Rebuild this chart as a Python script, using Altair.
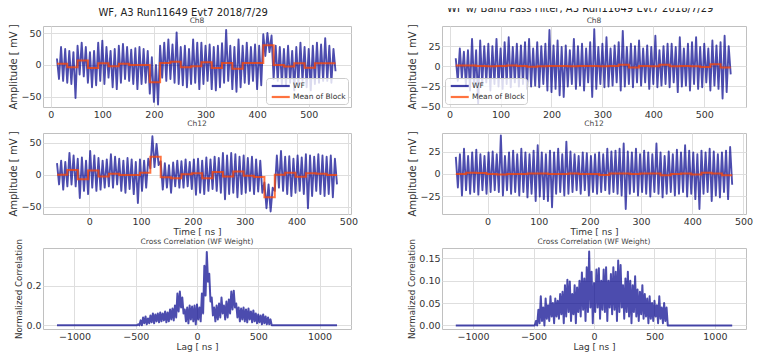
import altair as alt
import pandas as pd

# ---------------- data ----------------
STEP = 4          # ns between listed waveform samples
BLOCK = 20        # ns per block of the block mean
CH8_START = 12
CH12_START = -62

wf_left_ch8 = [
    10, -22, 28, -25, 25, -28, 22, -30, 20, -52,
    30, -15, 35, -18, 28, -28, 20, -35, 22, -32,
    35, -25, 38, -30, 28, -20, 22, -35, 25, -38,
    30, -28, 33, -22, 28, -25, 24, -30, 26, -38,
    28, -30, 25, -28, 22, -45, 12, -58, 0, -62,
    30, -20, 35, -25, 40, -22, 32, -28, 51, -30,
    28, -32, 30, -35, 25, -30, 40, -28, 35, -38,
    35, -30, 30, -25, 32, -38, 28, -40, 30, -35,
    34, -28, 55, -25, 30, -38, 28, -42, 40, -35,
    30, -28, 35, -30, 28, -25, 32, -38, 30, -32,
    48, 14, 50, 20, 46, -22, 30, -25, 28, -30,
    25, -32, 30, -28, 22, -40, 28, -30, 35, -25,
    28, -35, 25, -40, 30, -30, 35, -28, 32, -25,
    42, -25, 30, -28, 25, -10,
]
wf_left_ch12 = [
    18, -15, 22, -23, 20, -18, 34, -15, 30, -18,
    25, -36, 27, -25, 22, -30, 37, -20, 30, -25,
    26, -23, 22, -20, 24, -18, 32, -20, 28, -15,
    25, -25, 22, -28, 26, -22, 24, -30, 20, -44,
    24, -25, 22, -20, 25, 10, 60, 12, 48, 15,
    21, -23, 18, -20, 15, -28, 19, -18, 22, -20,
    21, -20, 24, -18, 20, -22, 24, -31, 25, -28,
    22, -30, 27, -25, 24, -22, 28, -25, 26, -28,
    34, -38, 30, -30, 34, -28, 32, -35, 28, -30,
    30, -28, 26, -25, 28, -30, 24, -26, 22, -28,
    -12, -52, -15, -57, -20, -25, 30, -20, 37, -25,
    28, -30, 29, -33, 25, -28, 30, -25, 27, -30,
    32, -52, 30, -33, 28, -25, 32, -30, 30, -33,
    28, -30, 30, -35, 25, -15,
]
wf_right_ch8 = [
    10, -18, 22, -15, 18, -24, 20, -30, 34, -25,
    20, -46, 32, -22, 25, -20, 28, -30, 25, -22,
    34, -25, 22, -28, 30, -22, 36, -26, 24, -20,
    28, -25, 26, -22, 30, -28, 34, -25, 22, -24,
    30, -26, 25, -22, 28, -30, 45, -32, 26, -28,
    32, -36, 24, -38, 26, -25, 20, -22, 34, -28,
    25, -24, 28, -30, 22, -20, 30, -38, 46, -28,
    24, -22, 28, -26, 36, -25, 22, -24, 26, -20,
    30, -30, 44, -25, 24, -22, 28, -26, 25, -20,
    32, -24, 22, -20, 26, -28, 24, -22, 38, -26,
    20, -24, 25, -22, 28, -26, 28, -20, 24, -32,
    36, -25, 22, -24, 28, -30, 30, -22, 36, -28,
    24, -26, 28, -20, 22, -30, 32, -24, 26, -28,
    30, -40, 38, -32, 25, -10,
]
wf_right_ch12 = [
    19, -15, 22, -24, 28, -18, 20, -22, 24, -20,
    27, -23, 22, -18, 20, -22, 24, -20, 25, -18,
    22, -20, 43, -24, 20, -18, 24, -22, 26, -20,
    22, -24, 28, -20, 24, -26, 22, -22, 26, -30,
    32, -25, 24, -28, 22, -30, 26, -37, 24, -22,
    28, -20, 22, -24, 36, -22, 25, -20, 22, -18,
    20, -22, 24, -18, 23, -24, 20, -20, 22, -22,
    24, -20, 22, -18, 28, -22, 25, -20, 26, -22,
    28, -24, 34, -39, 25, -22, 24, -20, 28, -24,
    22, -20, 26, -22, 24, -25, 22, -20, 34, -22,
    24, -26, 20, -22, 25, -20, 22, -24, 27, -22,
    24, -20, 32, -25, 26, -22, 24, -28, 22, -39,
    26, -22, 24, -20, 28, -30, 25, -24, 22, -26,
    24, -20, 26, -28, 30, -12,
]

mean_left_ch8 = [2, -3.5, 7, -5, 2.5, -2, 2, 0, 0, -27, 3, 5, -3.5, -2,
                 4, -5, 3, -6, 3, 3, 31, 0, -2.5, 2.5, -4.5, 2.5, 2.5]
mean_left_ch12 = [0, 7.5, -7, 6.5, -2.5, 1.5, -0.5, -0.5, 3, 28, -4, -5.5, 1, 2.5,
                  -5.5, 4.5, -2.5, 5, -1.5, -3.5, -35, 0, 3, -3, 2.5, 1.5, -0.5]
mean_right_ch8 = [1, 1, 0.5, 0, 0.5, 1, 0.5, -0.5, 0, 0.5, 0.5, 0, 0.5, 0.5,
                  0, 0.5, 2, -1.5, 0.5, 0, 2, 0, 0.5, 0, -1, 2.5, -1.5]
mean_right_ch12 = [0, 1.5, 1, 0, -0.5, 0, 0, 0.5, 0.5, 0, 0, 0.5, 0, 0,
                   -1, 0.5, 0.5, 0, 0.5, 0.5, -1.5, 0, 0.5, -0.5, 1.5, 0.5, -1.5]

CORR_T0 = -480    # first listed lag, 20 ns apart
CORR_EDGE = 1143  # lag range of the correlation
corr_left_hi = [0.005, 0.025, 0.04, 0.045, 0.035, 0.05, 0.06, 0.055, 0.06, 0.065,
                0.06, 0.07, 0.065, 0.08, 0.085, 0.1, 0.16, 0.17, 0.14, 0.08,
                0.09, 0.1, 0.095, 0.1, 0.105, 0.09, 0.16, 0.3, 0.37, 0.26,
                0.14, 0.09, 0.1, 0.11, 0.14, 0.1, 0.12, 0.13, 0.17, 0.175,
                0.11, 0.09, 0.085, 0.09, 0.08, 0.085, 0.07, 0.075, 0.06, 0.055,
                0.05, 0.055, 0.045, 0.04, 0.03]
corr_left_lo = [0, 0, 0.01, 0.005, 0.01, 0.015, 0.01, 0.02, 0.015, 0.02,
                0.025, 0.015, 0.02, 0.03, 0.025, 0.04, 0.07, 0.09, 0.06, 0.02,
                0.01, 0.03, 0.02, 0.005, 0.03, 0.02, 0.06, 0.15, 0.22, 0.12,
                0.05, 0.02, 0.03, 0.04, 0.06, 0.03, 0.04, 0.06, 0.08, 0.09,
                0.04, 0.02, 0.03, 0.02, 0.015, 0.03, 0.015, 0.02, 0.01, 0.015,
                0.005, 0.01, 0.005, 0.005, 0]
corr_right_hi = [0.01, 0.035, 0.065, 0.04, 0.06, 0.045, 0.065, 0.05, 0.06, 0.055,
                 0.07, 0.075, 0.09, 0.102, 0.098, 0.07, 0.09, 0.085, 0.1, 0.118,
                 0.105, 0.13, 0.165, 0.12, 0.095, 0.125, 0.128, 0.1, 0.125, 0.13,
                 0.1, 0.115, 0.13, 0.12, 0.145, 0.135, 0.09, 0.105, 0.12, 0.1,
                 0.09, 0.11, 0.08, 0.075, 0.09, 0.07, 0.06, 0.065, 0.05, 0.055,
                 0.045, 0.065, 0.04, 0.05, 0.04]
corr_right_lo = [0, 0.005, 0.01, 0, 0.015, 0.01, 0.02, 0.005, 0.02, 0.015,
                 0.025, 0.005, 0.02, 0.03, 0.01, 0.025, 0.005, 0.03, 0.02, 0.035,
                 0.01, 0.03, 0.04, 0.005, 0.03, 0.04, 0.015, 0.035, 0.03, 0.01,
                 0.04, 0.025, 0.035, 0.01, 0.03, 0.04, 0.015, 0.03, 0.02, 0.005,
                 0.03, 0.02, 0.01, 0.025, 0.015, 0.02, 0.005, 0.015, 0.01, 0.02,
                 0.005, 0.015, 0.005, 0.01, 0]

TITLE_LEFT = "WF, A3 Run11649 Evt7 2018/7/29"
TITLE_RIGHT = "WF w/ Band Pass Filter, A3 Run11649 Evt7 2018/7/29"
SERIES = ["WF", "Mean of Block"]
X_TICKS = [0, 100, 200, 300, 400, 500]
LAG_TICKS = [-1000, -500, 0, 500, 1000]

# ---------------- tables ----------------
def wf_frame(start, vals):
    return pd.DataFrame({"t": [start + STEP * i for i in range(len(vals))],
                         "v": vals, "s": SERIES[0]})

def mean_frame(start, means):
    ts = [start + BLOCK * k for k in range(len(means) + 1)]
    vs = list(means) + [means[-1]]
    return pd.DataFrame({"t": ts, "v": vs, "s": SERIES[1]})

def corr_frame(hi, lo, end):
    # each listed lag gives a peak value and, half a step later, a trough value
    ts, vs = [-CORR_EDGE, CORR_T0 - 10], [0.0, 0.0]
    for i, (h, l) in enumerate(zip(hi, lo)):
        t = CORR_T0 + 20 * i
        ts += [t, t + 10]
        vs += [h, l]
    ts += [end, CORR_EDGE]
    vs += [0.0, 0.0]
    return pd.DataFrame({"t": ts, "v": vs})

BLUE = "#00008b"
ORANGE = "#ff4500"
FONT = "DejaVu Sans"

def sub_title(text, offset):
    return alt.TitleParams(text, fontSize=7.5, offset=offset, frame="group")

def wf_panel(start, wf, means, sub, sub_offset, xdom, ydom, yticks, w, h,
             xtitle=None, legend_orient=None):
    if legend_orient:
        legend = alt.Legend(title=None, orient=legend_orient, offset=3,
                            fillColor="rgba(255,255,255,0.8)", strokeColor="#cccccc",
                            padding=2, cornerRadius=3, labelFontSize=7.5,
                            labelColor="#333333", labelFont=FONT,
                            symbolType="M-0.5,0H3.5", symbolSize=81,
                            symbolStrokeWidth=2.2, symbolOpacity=0.75,
                            rowPadding=0, labelOffset=13)
    else:
        legend = None
    color = alt.Color("s:N", scale=alt.Scale(domain=SERIES, range=[BLUE, ORANGE]),
                      legend=legend)
    x = alt.X("t:Q", scale=alt.Scale(domain=xdom, nice=False, zero=False),
              axis=alt.Axis(values=X_TICKS, title=xtitle))
    y = alt.Y("v:Q", scale=alt.Scale(domain=ydom, nice=False, zero=False),
              axis=alt.Axis(values=yticks, title="Amplitude [ mV ]", titleFontSize=10))
    line = alt.Chart(wf_frame(start, wf)).mark_line(
        strokeWidth=1.9, opacity=0.7, strokeJoin="round").encode(x=x, y=y, color=color)
    step = alt.Chart(mean_frame(start, means)).mark_line(
        strokeWidth=2, opacity=0.75, interpolate="step-after").encode(x=x, y=y, color=color)
    return alt.layer(line, step).properties(width=w, height=h,
                                            title=sub_title(sub, sub_offset))

def corr_panel(hi, lo, end, ydom, yticks, fmt, w, h, sub_offset):
    x = alt.X("t:Q", scale=alt.Scale(domain=[-1257, 1257], nice=False, zero=False),
              axis=alt.Axis(values=LAG_TICKS, format="d", title="Lag [ ns ]"))
    y = alt.Y("v:Q", scale=alt.Scale(domain=ydom, nice=False, zero=False),
              axis=alt.Axis(values=yticks, format=fmt, title="Normalized Correlation",
                            titleFontSize=8.7))
    return alt.Chart(corr_frame(hi, lo, end)).mark_line(
        color=BLUE, strokeWidth=2.0, opacity=0.7, strokeJoin="round").encode(
        x=x, y=y).properties(width=w, height=h,
                             title=sub_title("Cross Correlation (WF Weight)", sub_offset))

W_L, W_R, H = 308, 304, 81

left = alt.concat(
    wf_panel(CH8_START, wf_left_ch8, mean_left_ch8, "Ch8", -1, [-15, 582], [-66, 61],
             [-50, 0, 50], W_L, H, legend_orient="bottom-right"),
    wf_panel(CH12_START, wf_left_ch12, mean_left_ch12, "Ch12", 3, [-89, 505], [-61, 65],
             [-50, 0, 50], W_L, H, xtitle="Time [ ns ]"),
    corr_panel(corr_left_hi, corr_left_lo, 615, [-0.0185, 0.39], [0, 0.2], ".1f", W_L, H, -7),
    columns=1, spacing=0, align="each",
    title=alt.TitleParams(TITLE_LEFT, fontSize=10, offset=-1, color="#222222"),
).resolve_scale(color="independent")

right = alt.concat(
    wf_panel(CH8_START, wf_right_ch8, mean_right_ch8, "Ch8", -1, [-15, 582], [-50.5, 50],
             [-50, -25, 0, 25], W_R, H, legend_orient="bottom-left"),
    wf_panel(CH12_START, wf_right_ch12, mean_right_ch12, "Ch12", 3, [-89, 505], [-44.5, 45.6],
             [-25, 0, 25], W_R, H, xtitle="Time [ ns ]"),
    corr_panel(corr_right_hi, corr_right_lo, 625, [-0.008, 0.173], [0, 0.05, 0.1, 0.15],
               ".2f", W_R, H, -7),
    columns=1, spacing=0, align="each",
    title=alt.TitleParams(TITLE_RIGHT, fontSize=10, offset=3, color="#222222"),
).resolve_scale(color="independent")

chart = alt.hconcat(left, right, spacing=49).resolve_scale(color="independent").properties(
    padding={"left": 0, "top": -5, "right": 0, "bottom": 0}
).configure(font=FONT).configure_view(
    stroke="#c0c0c0", strokeWidth=1
).configure_axis(
    grid=True, gridColor="#dedede", gridWidth=1, domain=False, ticks=False,
    labelFontSize=9.5, labelColor="#333333", labelPadding=2, labelFont=FONT,
    titleFontSize=9, titleFontWeight="normal", titleColor="#333333", titlePadding=2,
    titleFont=FONT
).configure_title(
    fontWeight="normal", color="#444444", font=FONT, anchor="middle"
)

chart.save("out.html", embed_options={"renderer": "svg", "actions": False})
